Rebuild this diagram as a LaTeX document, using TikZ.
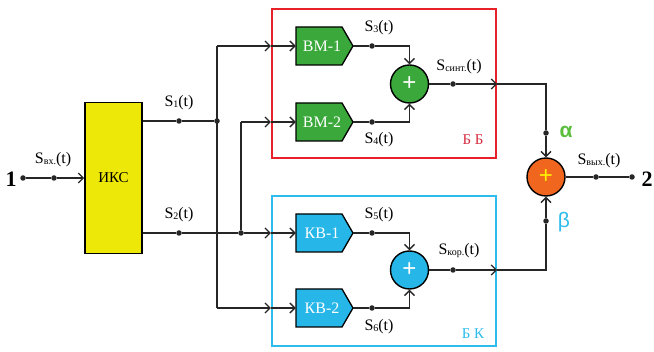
\documentclass[tikz,border=0pt]{standalone}
\usepackage{fontspec}
\setmainfont{Liberation Serif}
\newfontfamily\sansf{Liberation Sans}
\usetikzlibrary{arrows.meta,calc,backgrounds}
\definecolor{ikscol}{RGB}{238,232,8}
\definecolor{grn}{RGB}{58,168,58}
\definecolor{blu}{RGB}{38,182,232}
\definecolor{org}{RGB}{240,102,30}
\definecolor{redf}{RGB}{232,32,42}
\definecolor{bluf}{RGB}{45,188,236}
\definecolor{alph}{RGB}{90,190,60}
\definecolor{redt}{RGB}{215,45,65}
\newcommand\Sig[1]{S\raisebox{-0.15ex}{\fontsize{10}{10}\selectfont #1}(t)}
\newcommand\pentblock[2]{%
  \fill[#2, draw=black, line width=1.3pt]
    ([shift={(-28.5,-19)}]#1.center) -- ([shift={(17.5,-19)}]#1.center)
    -- ([shift={(28.5,0)}]#1.center) -- ([shift={(17.5,19)}]#1.center)
    -- ([shift={(-28.5,19)}]#1.center) -- cycle;}
\begin{document}
\begin{tikzpicture}[x=1pt,y=-1pt,
  wire/.style={line width=1.3pt, draw=black!85},
  arr/.style={wire, -{Straight Barb[length=5pt,width=10pt]}},
  dotn/.style={circle, fill=black!85, inner sep=0pt, minimum size=5.5pt},
  blk/.style={rectangle, minimum width=57pt, minimum height=38pt, inner sep=0pt,
    text=white, font=\fontsize{16}{16}\selectfont},
  sumn/.style={circle, draw=black, line width=1.4pt, minimum size=38pt, inner sep=0pt,
    font=\sansf\fontsize{24}{24}\selectfont},
  lbl/.style={font=\fontsize{16}{16}\selectfont, inner sep=0pt},
  frame/.style={line width=2.2pt, inner sep=0pt, minimum width=224pt}
]
\useasboundingbox (0,0) rectangle (654,352);

% frames
\node[frame, draw=redf, minimum height=149pt] (bb) at (384,83.5) {};
\node[frame, draw=bluf, minimum height=150pt] (bk) at (384,271) {};
\node[font=\fontsize{15}{15}\selectfont, text=redt] (bbl) at (473,140) {Б Б};
\node[font=\fontsize{15}{15}\selectfont, text=bluf] (bkl) at (473,334) {Б К};

% IKS
\node[draw=black, line width=1.6pt, fill=ikscol, minimum width=57pt, minimum height=151pt,
  inner sep=0pt, font=\fontsize{15}{15}\selectfont] (iks) at (113.5,178) {ИКС};

% input
\node[font=\bfseries\fontsize{22}{22}\selectfont, inner sep=0pt] (n1) at (11,179) {1};
\node[dotn] (in1) at (23,178) {};
\node[dotn] (in2) at (54,178) {};
\node[lbl] (lin) at (53,160) {\Sig{вх.}};
\draw[wire] (in1) -- (in2);
\draw[arr] (in2) -- (iks.west);

% S1, S2
\node[dotn] (s1) at (179,121) {};
\node[dotn] (j1) at (217,121) {};
\node[lbl] (ls1) at (179,103) {\Sig{1}};
\node[dotn] (s2) at (179,233) {};
\node[dotn] (j2) at (241,233) {};
\node[lbl] (ls2) at (179,215) {\Sig{2}};
\draw[wire] (iks.east |- s1) -- (s1) -- (j1);
\draw[wire] (iks.east |- s2) -- (s2) -- (j2);

% blocks
\node[blk] (bm1) at (324.5,46) {\hspace*{-5pt}ВМ-1};
\node[blk] (bm2) at (324.5,122) {\hspace*{-5pt}ВМ-2};
\node[blk] (kb1) at (324.5,233) {\hspace*{-5pt}КВ-1};
\node[blk] (kb2) at (324.5,308) {\hspace*{-5pt}КВ-2};
\begin{scope}[on background layer]
\pentblock{bm1}{grn}
\pentblock{bm2}{grn}
\pentblock{kb1}{blu}
\pentblock{kb2}{blu}
\end{scope}

\coordinate (c1) at (217,46);
\coordinate (c2) at (217,308);
\coordinate (c3) at (241,122);
\coordinate (e1) at (bb.west |- bm1);
\coordinate (e2) at (bb.west |- bm2);
\coordinate (e3) at (bk.west |- kb1);
\coordinate (e4) at (bk.west |- kb2);

\draw[wire] (c1) -- (c2);
\draw[arr] (c1) -- (e1);
\draw[arr] (e1) -- (bm1.west);
\draw[arr] (c2) -- (e4);
\draw[arr] (e4) -- (kb2.west);
\draw[wire] (j2) -- (c3);
\draw[arr] (c3) -- (e2);
\draw[arr] (e2) -- (bm2.west);
\draw[arr] (j2) -- (e3);
\draw[arr] (e3) -- (kb1.west);

% sums
\node[sumn, fill=grn, text=white] (sg) at (409.5,84) {+};
\node[sumn, fill=blu, text=white] (sb) at (409.5,270) {+};
\node[sumn, fill=org, text=yellow] (so) at (546,177) {+};

\node[dotn] (s3) at (372,46) {};
\node[dotn] (s4) at (372,122) {};
\node[dotn] (s5) at (372,233) {};
\node[dotn] (s6) at (372,308) {};
\node[lbl] (ls3) at (379,28) {\Sig{3}};
\node[lbl] (ls4) at (379,140) {\Sig{4}};
\node[lbl] (ls5) at (379,215) {\Sig{5}};
\node[lbl] (ls6) at (379,327) {\Sig{6}};

\draw[wire] (bm1.east) -- (s3);
\draw[wire] (bm2.east) -- (s4);
\draw[wire] (kb1.east) -- (s5);
\draw[wire] (kb2.east) -- (s6);
\draw[arr] (s3) -| (sg.north);
\draw[arr] (s4) -| (sg.south);
\draw[arr] (s5) -| (sb.north);
\draw[arr] (s6) -| (sb.south);

% outputs of blocks
\node[dotn] (d7) at (453,84) {};
\node[dotn] (d8) at (453,270) {};
\node[lbl] (lsin) at (459,67) {\Sig{синт.}};
\node[lbl] (lkor) at (459,251) {\Sig{кор.}};
\coordinate (e5) at (bb.east |- sg);
\coordinate (e6) at (bk.east |- sb);
\node[dotn] (da) at (546,133) {};
\node[dotn] (db) at (546,221) {};
\node[font=\sansf\bfseries\fontsize{21}{21}\selectfont, text=alph, inner sep=0pt] (la) at (566,132) {α};
\node[font=\sansf\fontsize{21}{21}\selectfont, text=bluf, inner sep=0pt] (lb) at (564,222) {β};

\draw[wire] (sg.east) -- (d7);
\draw[arr] (d7) -- (e5);
\draw[wire] (e5) -| (da);
\draw[arr] (da) -- (so.north);
\draw[wire] (sb.east) -- (d8);
\draw[arr] (d8) -- (e6);
\draw[wire] (e6) -| (db);
\draw[arr] (db) -- (so.south);

% final output
\node[dotn] (d9) at (596,177) {};
\node[dotn] (d10) at (632,177) {};
\node[lbl] (lout) at (599,161) {\Sig{вых.}};
\node[font=\bfseries\fontsize{22}{22}\selectfont, inner sep=0pt] (n2) at (647,179) {2};
\draw[wire] (so.east) -- (d9) -- (d10);
\end{tikzpicture}
\end{document}
